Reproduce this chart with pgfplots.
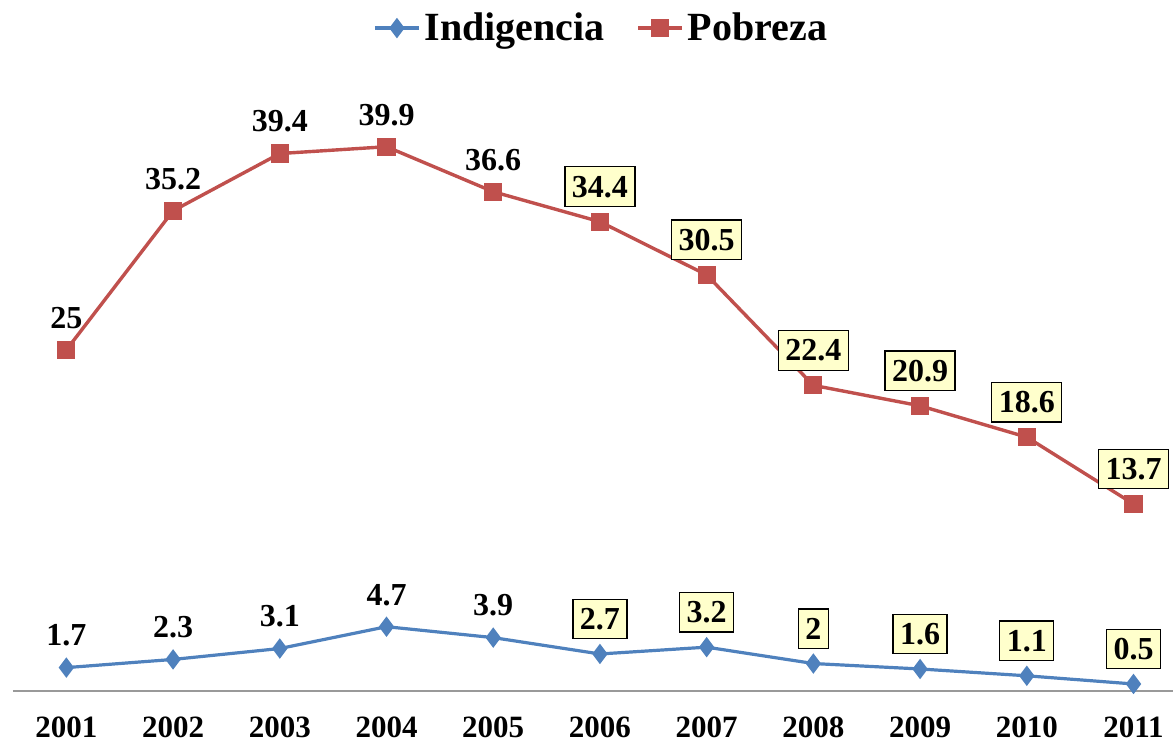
\documentclass[border=0pt]{standalone}
\usepackage{pgfplots}
\pgfplotsset{compat=1.18}
\usepackage{pgfplotstable}
\usepackage{fontspec}
\setmainfont{Liberation Serif}
\definecolor{cblue}{HTML}{4F81BD}
\definecolor{cred}{HTML}{C0504D}
\definecolor{cbox}{HTML}{FFFFCC}
\pgfplotstableread{
x ind pob lind lpob
0 1.7 25 1.7 25
1 2.3 35.2 2.3 35.2
2 3.1 39.4 3.1 39.4
3 4.7 39.9 4.7 39.9
4 3.9 36.6 3.9 36.6
5 2.7 34.4 2.7 34.4
6 3.2 30.5 3.2 30.5
7 2 22.4 2 22.4
8 1.6 20.9 1.6 20.9
9 1.1 18.6 1.1 18.6
10 0.5 13.7 0.5 13.7
}\data
\begin{document}
\bfseries
\begin{tikzpicture}
\begin{axis}[
  scale only axis, width=580pt, height=340.9pt,
  xmin=-0.5, xmax=10.37, ymin=0, ymax=50,
  axis y line=none, axis x line*=bottom,
  x axis line style={draw=gray!80, line width=0.8pt, -},
  xtick={0,...,10},
  xticklabels={2001,2002,2003,2004,2005,2006,2007,2008,2009,2010,2011},
  major tick length=0pt,
  xticklabel style={font=\fontsize{15.5}{15.5}\selectfont\bfseries, anchor=base, yshift=-23.5pt},
  clip=false,
  legend style={at={(0.508,0.972)}, anchor=center, draw=none, fill=none,
    font=\fontsize{20}{20}\selectfont\bfseries, legend columns=2,
    /tikz/every even column/.append style={column sep=14pt}},
  legend image code/.code={\draw[mark repeat=2,mark phase=2,#1] plot coordinates {(0pt,0pt) (11pt,0pt) (22pt,0pt)};},
  plainlab/.style={draw=none, forget plot, point meta=explicit symbolic,
    nodes near coords={\fontsize{16}{16}\selectfont\bfseries\pgfplotspointmeta},
    every node near coord/.append style={text=black, anchor=center, yshift=16pt}},
  boxlab/.style={draw=none, forget plot, point meta=explicit symbolic,
    nodes near coords={\fontsize{16}{16}\selectfont\bfseries\pgfplotspointmeta},
    every node near coord/.append style={text=black, anchor=center, yshift=17.5pt,
      draw=black, line width=0.6pt, fill=cbox, inner xsep=3.5pt, inner ysep=4.5pt}},
]
\addplot[cblue, line width=1.6pt, mark=diamond*, mark size=3.8pt, mark options={solid,fill=cblue}] table[x=x,y=ind] {\data};
\addlegendentry{Indigencia}
\addplot[cred, line width=1.7pt, mark=square*, mark size=3.7pt, mark options={solid,fill=cred}] table[x=x,y=pob] {\data};
\addlegendentry{Pobreza}
% labels, plain
\addplot[plainlab, restrict x to domain=0:4] table[x=x,y=ind,meta=lind] {\data};
\addplot[plainlab, restrict x to domain=0:4] table[x=x,y=pob,meta=lpob] {\data};
% labels, boxed
\addplot[boxlab, restrict x to domain=5:10] table[x=x,y=ind,meta=lind] {\data};
\addplot[boxlab, restrict x to domain=5:10] table[x=x,y=pob,meta=lpob] {\data};
\coordinate (bl) at (rel axis cs:0,0);
\coordinate (tr) at (rel axis cs:1,1);
\end{axis}
\pgfresetboundingbox
\path ([xshift=-6.5pt,yshift=-26.1pt]bl) rectangle ([yshift=4.5pt]tr);
\end{tikzpicture}
\end{document}
